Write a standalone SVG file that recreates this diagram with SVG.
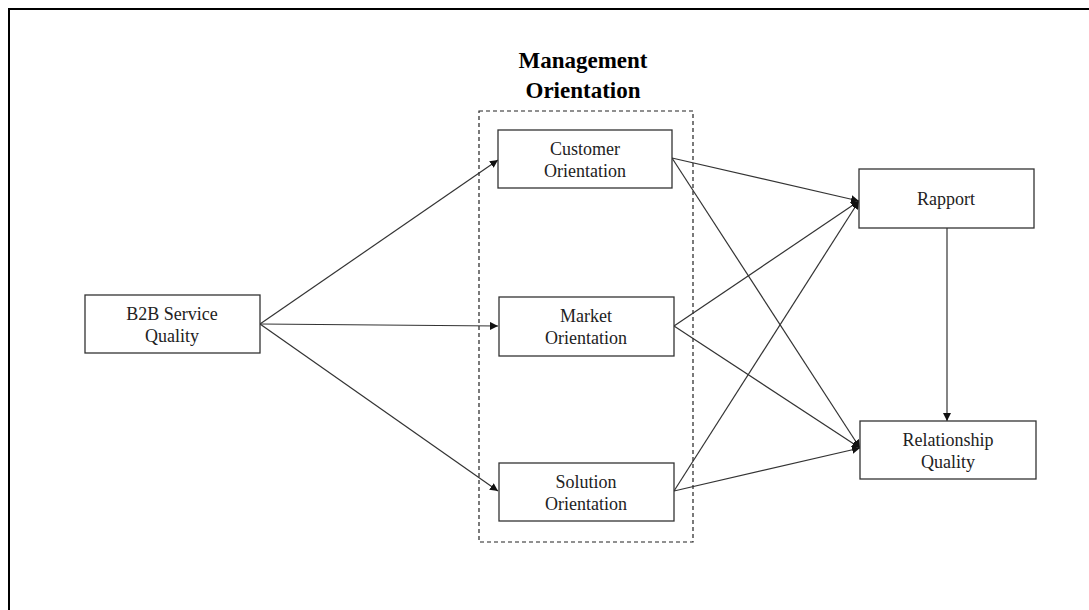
<svg xmlns="http://www.w3.org/2000/svg" width="1089" height="610" viewBox="0 0 1089 610">
<style>
.box{fill:#fff;stroke:#333;stroke-width:1.3}
.t{font-family:'Liberation Serif','DejaVu Serif',serif;font-size:18px;fill:#222;text-anchor:middle}
.h{font-family:'Liberation Serif','DejaVu Serif',serif;font-size:23px;font-weight:bold;fill:#000;text-anchor:middle}
.c{stroke:#333;stroke-width:1.2;fill:none;marker-end:url(#ah)}
</style>
<defs>
<marker id="ah" viewBox="0 0 10 10" refX="10" refY="5" markerWidth="8" markerHeight="8" markerUnits="userSpaceOnUse" orient="auto">
<path d="M0,0 L10,5 L0,10 z" fill="#111"/>
</marker>
</defs>
<rect width="1089" height="610" fill="#fff"/>
<path d="M9,610 V9 H1089" fill="none" stroke="#000" stroke-width="2"/>
<g id="group-management">
<rect x="479" y="111" width="214" height="431" fill="none" stroke="#222" stroke-width="1.2" stroke-dasharray="4,3"/>
<text class="h" x="583" y="68">Management</text>
<text class="h" x="583" y="98">Orientation</text>
</g>
<g id="connectors">
<line class="c" x1="260" y1="324" x2="498" y2="160"/>
<line class="c" x1="260" y1="324" x2="498" y2="326"/>
<line class="c" x1="260" y1="324" x2="498" y2="491"/>
<line class="c" x1="672" y1="158" x2="859" y2="201"/>
<line class="c" x1="672" y1="158" x2="860" y2="448"/>
<line class="c" x1="674" y1="326" x2="859" y2="201"/>
<line class="c" x1="674" y1="326" x2="860" y2="448"/>
<line class="c" x1="674" y1="491" x2="859" y2="201"/>
<line class="c" x1="674" y1="491" x2="860" y2="448"/>
<line class="c" x1="947" y1="228" x2="947" y2="421"/>
</g>
<g id="b2b">
<rect class="box" x="85" y="295" width="175" height="58"/>
<text class="t" x="172" y="320">B2B Service</text>
<text class="t" x="172" y="342">Quality</text>
</g>
<g id="customer">
<rect class="box" x="498" y="130" width="174" height="58"/>
<text class="t" x="585" y="155">Customer</text>
<text class="t" x="585" y="177">Orientation</text>
</g>
<g id="market">
<rect class="box" x="499" y="297" width="175" height="59"/>
<text class="t" x="586" y="322">Market</text>
<text class="t" x="586" y="344">Orientation</text>
</g>
<g id="solution">
<rect class="box" x="499" y="463" width="175" height="58"/>
<text class="t" x="586" y="488">Solution</text>
<text class="t" x="586" y="510">Orientation</text>
</g>
<g id="rapport">
<rect class="box" x="859" y="169" width="175" height="59"/>
<text class="t" x="946" y="205">Rapport</text>
</g>
<g id="relationship">
<rect class="box" x="860" y="421" width="176" height="58"/>
<text class="t" x="948" y="446">Relationship</text>
<text class="t" x="948" y="468">Quality</text>
</g>
</svg>
